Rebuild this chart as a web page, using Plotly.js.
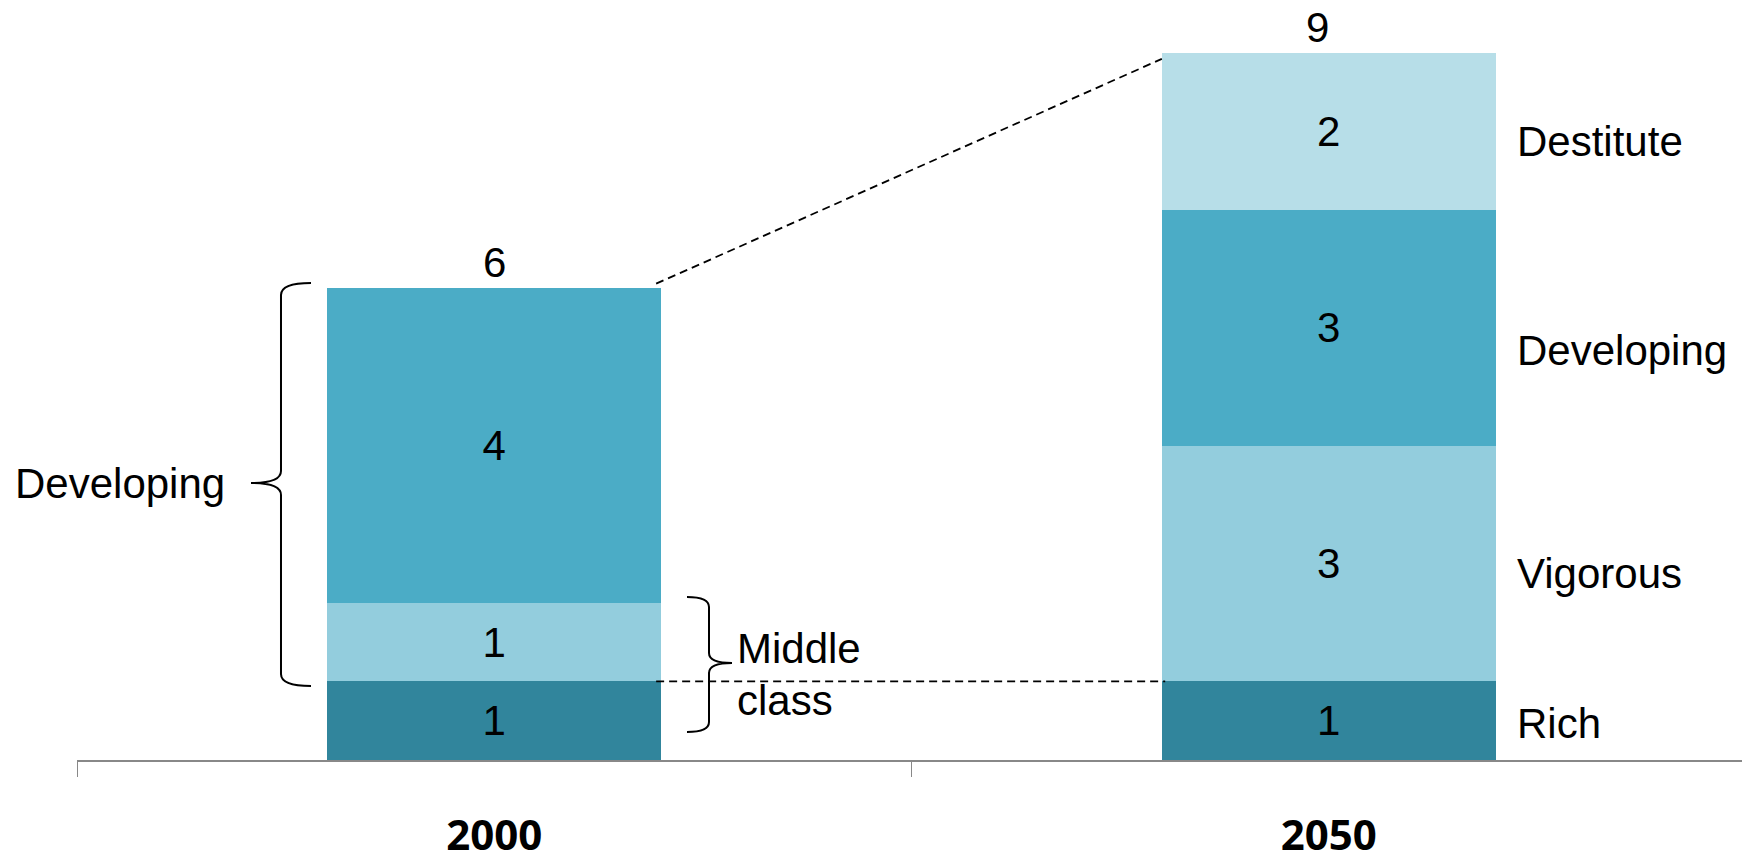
<!DOCTYPE html>
<html>
<head>
<meta charset="utf-8">
<script src="https://cdn.plot.ly/plotly-3.0.1.min.js"></script>
<style>html,body{margin:0;padding:0;background:#fff;}#chart{width:1742px;height:858px;}</style>
</head>
<body>
<div id="chart"></div>
<script>
// ---- data ----
const years = ["2000", "2050"];
const rich = [1, 1];
const vigorous = [1, 3];
const developing = [4, 3];
const destitute = [null, 2];
const segmentNames = ["Rich", "Vigorous", "Developing", "Destitute"];
const leftGroupLabel = "Developing";
const middleLabel = ["Middle", "class"];

// ---- layout constants ----
const W = 1742, H = 858;
const M = {l: 77, r: 0, t: 13, b: 98};
const PW = W - M.l - M.r, PH = H - M.t - M.b;
const pxPerUnit = 78.6;
const yMax = PH / pxPerUnit;
const catSpacingPx = 834.5;
const xMax = -0.5 + PW / catSpacingPx;
const FONT = "Liberation Sans, Arial, sans-serif";
const colors = {Rich: "#31859C", Vigorous: "#93CDDD", Developing: "#4BACC6", Destitute: "#B7DEE8"};
const barWidth = 0.4;

const series = {Rich: rich, Vigorous: vigorous, Developing: developing, Destitute: destitute};
const traces = segmentNames.map(name => ({
  type: "bar",
  name: name,
  x: years,
  y: series[name],
  width: barWidth,
  marker: {color: colors[name], line: {width: 0}},
  text: series[name].map(v => v == null ? "" : String(v)),
  textposition: "inside",
  insidetextanchor: "middle",
  textangle: 0,
  textfont: {family: FONT, size: 42, color: "#000"},
  hoverinfo: "skip"
}));

const totals = years.map((_, i) => segmentNames.reduce((s, n) => s + (series[n][i] || 0), 0));

// pixel -> paper helpers for decorative braces
const px = v => (v - M.l) / PW;
const py = v => (M.t + PH - v) / PH;
function P(x, y) { return px(x).toFixed(5) + "," + py(y).toFixed(5); }

// brace path: vertical spine at xv, hooks end at xHook, tip at xTip
function brace(xv, xHook, xTip, yTop, yMid, yBot, r) {
  return "M" + P(xHook, yTop) + " Q" + P(xv, yTop) + " " + P(xv, yTop + r) +
    " L" + P(xv, yMid - r) + " Q" + P(xv, yMid) + " " + P(xTip, yMid) +
    " Q" + P(xv, yMid) + " " + P(xv, yMid + r) +
    " L" + P(xv, yBot - r) + " Q" + P(xv, yBot) + " " + P(xHook, yBot);
}

const annotations = [];
// totals on top of bars (x as category index)
const totalShift = [0, -11];
years.forEach((yr, i) => {
  annotations.push({x: i, y: totals[i], xref: "x", yref: "y", text: String(totals[i]),
    showarrow: false, yanchor: "bottom", xanchor: "center", yshift: 0, xshift: totalShift[i],
    font: {family: FONT, size: 42, color: "#000"}});
});
// right-hand segment labels for the 2050 bar
const rightShift = {Rich: -3, Vigorous: -10, Developing: -23, Destitute: -10};
let cum = 0;
segmentNames.forEach(name => {
  const v = series[name][1];
  const mid = cum + v / 2;
  cum += v;
  annotations.push({x: 1 + barWidth / 2, y: mid, xref: "x", yref: "y", text: name,
    showarrow: false, xanchor: "left", yanchor: "middle", xshift: 19, yshift: rightShift[name],
    font: {family: FONT, size: 42, color: "#000"}});
});
// left group label
annotations.push({x: px(227), y: py(483), xref: "paper", yref: "paper", text: leftGroupLabel,
  showarrow: false, xanchor: "right", yanchor: "middle",
  font: {family: FONT, size: 42, color: "#000"}});
// middle class label
annotations.push({x: px(735), y: py(648), xref: "paper", yref: "paper", text: middleLabel[0],
  showarrow: false, xanchor: "left", yanchor: "middle",
  font: {family: FONT, size: 42, color: "#000"}});
annotations.push({x: px(735), y: py(700), xref: "paper", yref: "paper", text: middleLabel[1],
  showarrow: false, xanchor: "left", yanchor: "middle",
  font: {family: FONT, size: 42, color: "#000"}});

const shapes = [
  // dashed connector from 2000 top to 2050 top
  {type: "line", xref: "x", yref: "y", x0: barWidth / 2 - 0.006, y0: totals[0] + 0.06, x1: 1 - barWidth / 2, y1: totals[1] - 0.08,
   line: {color: "#000", width: 1.8, dash: "8px,5px"}},
  // dashed line at rich level
  {type: "line", xref: "x", yref: "y", x0: barWidth / 2 - 0.006, y0: rich[0], x1: 1 - barWidth / 2 + 0.004, y1: rich[1],
   line: {color: "#000", width: 1.8, dash: "8px,5px"}},
  // left brace (Developing)
  {type: "path", xref: "paper", yref: "paper", path: brace(281, 311, 251, 283, 483, 686, 12),
   line: {color: "#000", width: 2}},
  // middle class brace (tip to the right)
  {type: "path", xref: "paper", yref: "paper", path: brace(709, 687, 732, 597, 663, 732, 10),
   line: {color: "#000", width: 2}}
];

const layout = {
  width: W, height: H,
  margin: M,
  paper_bgcolor: "#fff", plot_bgcolor: "#fff",
  barmode: "stack",
  showlegend: false,
  xaxis: {
    type: "category", range: [-0.5, xMax], fixedrange: true,
    showline: true, linecolor: "#888", linewidth: 2,
    ticks: "outside", tickson: "boundaries", ticklen: 15, tickcolor: "#888", tickwidth: 1,
    tickfont: {family: "Open Sans, sans-serif", size: 42, color: "#000", weight: "bold"},
    ticklabelstandoff: 38,
    showgrid: false, zeroline: false
  },
  yaxis: {range: [0, yMax], visible: false, fixedrange: true, showgrid: false, zeroline: false},
  annotations: annotations,
  shapes: shapes
};

Plotly.newPlot("chart", traces, layout, {staticPlot: true, displayModeBar: false});
</script>
</body>
</html>
